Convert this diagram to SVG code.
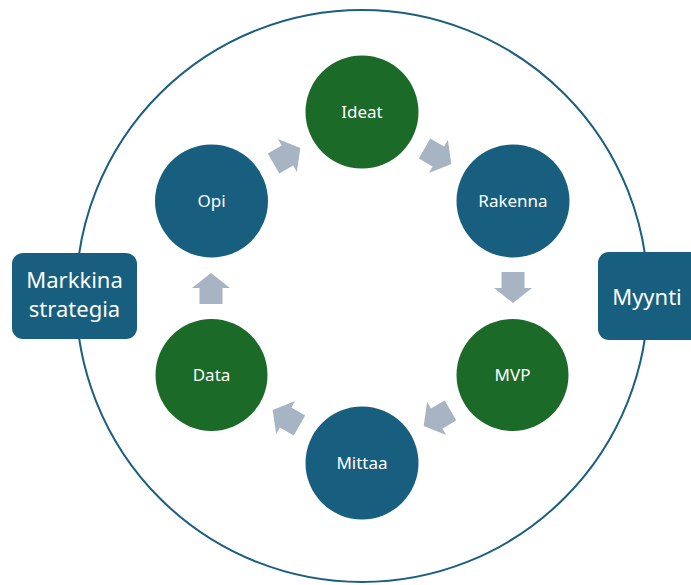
<svg xmlns="http://www.w3.org/2000/svg" width="691" height="585" viewBox="0 0 691 585">
<defs>
<style>
.ring{fill:none;stroke:#1a5f80;stroke-width:2}
.blue{fill:#175e7f}
.green{fill:#1c6a28}
.box{fill:#175e7f}
.lbl{font-family:"Noto Sans","DejaVu Sans",sans-serif;font-size:17px;fill:#ffffff;text-anchor:middle}
.big{font-family:"Noto Sans","DejaVu Sans",sans-serif;font-size:22px;fill:#ffffff;text-anchor:middle}
.arr{fill:#a7b4c3}
</style>
<path id="ar" d="M-15,-11.5 L1,-11.5 L1,-19 L16,0 L1,19 L1,11.5 L-15,11.5 Z"/>
</defs>
<rect width="691" height="585" fill="#ffffff"/>
<circle class="ring" cx="362" cy="296" r="286"/>
<g id="connectors" class="arr">
<use href="#ar" transform="translate(437.5,156) rotate(30)"/>
<use href="#ar" transform="translate(513,287) rotate(90)"/>
<use href="#ar" transform="translate(437.5,418) rotate(150)"/>
<use href="#ar" transform="translate(286.5,418) rotate(210)"/>
<use href="#ar" transform="translate(211,289) rotate(270)"/>
<use href="#ar" transform="translate(286.5,156) rotate(330)"/>
</g>
<g id="ideat"><circle class="green" cx="362" cy="112" r="56.5"/><text class="lbl" x="362" y="118">Ideat</text></g>
<g id="rakenna"><circle class="blue" cx="513" cy="201" r="56.5"/><text class="lbl" x="513" y="207">Rakenna</text></g>
<g id="mvp"><circle class="green" cx="512.5" cy="375" r="56"/><text class="lbl" x="512.5" y="381">MVP</text></g>
<g id="mittaa"><circle class="blue" cx="362" cy="463" r="56.5"/><text class="lbl" x="362" y="469">Mittaa</text></g>
<g id="data"><circle class="green" cx="211.5" cy="375" r="56"/><text class="lbl" x="211.5" y="381">Data</text></g>
<g id="opi"><circle class="blue" cx="211.5" cy="201" r="56.5"/><text class="lbl" x="211.5" y="207">Opi</text></g>
<g id="markkinastrategia"><rect class="box" x="12" y="253" width="125" height="86" rx="11"/><text class="big" x="74.5" y="288">Markkina</text><text class="big" x="74.5" y="317">strategia</text></g>
<g id="myynti"><rect class="box" x="598" y="252" width="104" height="88" rx="11"/><text class="big" x="647" y="305">Myynti</text></g>
</svg>
